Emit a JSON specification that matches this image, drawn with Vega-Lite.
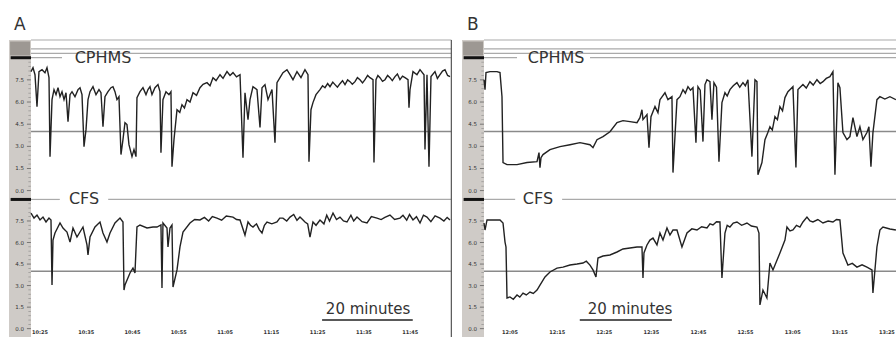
{
"$schema": "https://vega.github.io/schema/vega-lite/v6.json",
"padding": {"left": 9, "top": 16, "right": 0, "bottom": 0},
"background": "white",
"spacing": 9,
"config": {"view": {"stroke": null}, "font": "DejaVu Sans", "line": {"color": "#222", "strokeWidth": 1.4}, "text": {"font": "DejaVu Sans", "color": "#333"}},
"datasets": {
"one": [{"k": 1}],
"minorTop": [{"pH":0.3},{"pH":0.6},{"pH":0.9},{"pH":1.2},{"pH":1.8},{"pH":2.1},{"pH":2.4},{"pH":2.7},{"pH":3.3},{"pH":3.6},{"pH":3.9},{"pH":4.2},{"pH":4.8},{"pH":5.1},{"pH":5.4},{"pH":5.7},{"pH":6.3},{"pH":6.6},{"pH":6.9},{"pH":7.2},{"pH":7.8},{"pH":8.1},{"pH":8.4},{"pH":8.7}],
"yLab": [{"pH":0,"lab":"0.0"},{"pH":1.5,"lab":"1.5"},{"pH":3,"lab":"3.0"},{"pH":4.5,"lab":"4.5"},{"pH":6,"lab":"6.0"},{"pH":7.5,"lab":"7.5"}],
"aTimes": [{"t":1.94,"lab":"10:25"},{"t":11.89,"lab":"10:35"},{"t":21.84,"lab":"10:45"},{"t":31.79,"lab":"10:55"},{"t":41.74,"lab":"11:05"},{"t":51.69,"lab":"11:15"},{"t":61.64,"lab":"11:25"},{"t":71.59,"lab":"11:35"},{"t":81.54,"lab":"11:45"}],
"bTimes": [{"t":5.6,"lab":"12:05"},{"t":15.73,"lab":"12:15"},{"t":25.86,"lab":"12:25"},{"t":35.99,"lab":"12:35"},{"t":46.12,"lab":"12:45"},{"t":56.25,"lab":"12:55"},{"t":66.38,"lab":"13:05"},{"t":76.51,"lab":"13:15"},{"t":86.64,"lab":"13:25"}],
"aTop": [{"t":0,"pH":8.06},{"t":0.43,"pH":8.33},{"t":0.86,"pH":7.85},{"t":1.29,"pH":5.69},{"t":1.72,"pH":8.06},{"t":2.37,"pH":8.19},{"t":3.01,"pH":7.99},{"t":3.44,"pH":8.33},{"t":3.87,"pH":7.65},{"t":4.09,"pH":2.3},{"t":4.52,"pH":6.16},{"t":4.95,"pH":6.84},{"t":5.38,"pH":6.5},{"t":5.81,"pH":6.97},{"t":6.24,"pH":6.36},{"t":6.67,"pH":6.7},{"t":7.1,"pH":6.16},{"t":7.53,"pH":6.63},{"t":7.96,"pH":4.67},{"t":8.39,"pH":6.5},{"t":8.82,"pH":6.7},{"t":9.46,"pH":6.36},{"t":10.11,"pH":6.84},{"t":10.54,"pH":6.97},{"t":10.97,"pH":6.5},{"t":11.4,"pH":2.98},{"t":11.83,"pH":4.13},{"t":12.26,"pH":6.16},{"t":12.69,"pH":6.7},{"t":13.33,"pH":7.04},{"t":13.98,"pH":6.5},{"t":14.62,"pH":6.84},{"t":15.05,"pH":6.63},{"t":15.48,"pH":4.33},{"t":15.91,"pH":6.36},{"t":16.56,"pH":6.7},{"t":17.2,"pH":6.97},{"t":17.63,"pH":7.04},{"t":18.06,"pH":6.7},{"t":18.49,"pH":6.16},{"t":18.92,"pH":6.36},{"t":19.35,"pH":2.44},{"t":19.78,"pH":3.45},{"t":20.21,"pH":4.6},{"t":20.64,"pH":4.47},{"t":21.07,"pH":3.11},{"t":21.72,"pH":2.3},{"t":22.15,"pH":2.78},{"t":22.58,"pH":2.3},{"t":22.79,"pH":6.3},{"t":23.44,"pH":6.7},{"t":24.08,"pH":6.97},{"t":24.73,"pH":6.5},{"t":25.16,"pH":6.84},{"t":25.59,"pH":7.04},{"t":26.02,"pH":6.5},{"t":26.66,"pH":6.97},{"t":27.31,"pH":7.18},{"t":27.74,"pH":6.7},{"t":27.95,"pH":2.57},{"t":28.38,"pH":6.16},{"t":29.03,"pH":6.7},{"t":29.67,"pH":6.5},{"t":30.1,"pH":6.7},{"t":30.32,"pH":1.62},{"t":30.75,"pH":3.45},{"t":31.4,"pH":5.48},{"t":32.0,"pH":5.3},{"t":32.47,"pH":5.82},{"t":33.0,"pH":5.6},{"t":33.55,"pH":6.16},{"t":34.2,"pH":6.0},{"t":34.84,"pH":6.63},{"t":35.6,"pH":6.45},{"t":36.34,"pH":6.97},{"t":37.0,"pH":7.2},{"t":37.85,"pH":7.31},{"t":38.5,"pH":7.1},{"t":39.14,"pH":7.65},{"t":39.8,"pH":7.45},{"t":40.65,"pH":7.85},{"t":41.3,"pH":7.6},{"t":42.15,"pH":8.06},{"t":42.8,"pH":7.8},{"t":43.44,"pH":7.99},{"t":44.2,"pH":7.7},{"t":44.95,"pH":7.85},{"t":45.59,"pH":2.23},{"t":46.02,"pH":6.63},{"t":46.67,"pH":4.81},{"t":47.1,"pH":6.16},{"t":47.74,"pH":7.04},{"t":48.6,"pH":6.84},{"t":49.25,"pH":4.27},{"t":49.68,"pH":6.97},{"t":50.32,"pH":7.18},{"t":50.97,"pH":6.16},{"t":51.83,"pH":6.84},{"t":52.47,"pH":3.25},{"t":52.9,"pH":7.31},{"t":53.55,"pH":7.65},{"t":54.19,"pH":7.99},{"t":55.05,"pH":8.19},{"t":55.7,"pH":7.85},{"t":56.34,"pH":7.51},{"t":57.2,"pH":8.06},{"t":58.06,"pH":7.65},{"t":58.92,"pH":8.19},{"t":59.57,"pH":7.85},{"t":59.78,"pH":1.96},{"t":60.21,"pH":5.48},{"t":60.64,"pH":5.96},{"t":61.29,"pH":6.5},{"t":62.15,"pH":6.84},{"t":62.7,"pH":7.1},{"t":63.22,"pH":6.97},{"t":63.8,"pH":7.25},{"t":64.3,"pH":7.04},{"t":64.9,"pH":7.35},{"t":65.38,"pH":7.18},{"t":65.9,"pH":7.0},{"t":66.45,"pH":7.24},{"t":67.0,"pH":7.45},{"t":67.53,"pH":7.18},{"t":68.1,"pH":7.5},{"t":68.6,"pH":7.38},{"t":69.1,"pH":7.2},{"t":69.68,"pH":7.38},{"t":70.2,"pH":7.65},{"t":70.75,"pH":7.51},{"t":71.3,"pH":7.3},{"t":71.83,"pH":7.51},{"t":72.4,"pH":7.8},{"t":72.9,"pH":7.65},{"t":73.55,"pH":7.51},{"t":73.76,"pH":1.9},{"t":74.19,"pH":7.51},{"t":74.6,"pH":7.8},{"t":75.05,"pH":7.65},{"t":75.6,"pH":7.4},{"t":76.13,"pH":7.51},{"t":76.7,"pH":7.8},{"t":77.2,"pH":7.65},{"t":77.7,"pH":7.45},{"t":78.28,"pH":7.72},{"t":78.8,"pH":7.9},{"t":79.35,"pH":7.51},{"t":79.9,"pH":7.75},{"t":80.43,"pH":7.65},{"t":81.08,"pH":7.51},{"t":81.29,"pH":5.62},{"t":81.51,"pH":6.84},{"t":82.15,"pH":8.06},{"t":83.01,"pH":7.85},{"t":83.66,"pH":8.19},{"t":84.52,"pH":7.85},{"t":84.73,"pH":2.78},{"t":85.16,"pH":7.85},{"t":85.59,"pH":1.62},{"t":86.02,"pH":7.72},{"t":86.88,"pH":8.06},{"t":87.4,"pH":7.6},{"t":87.96,"pH":7.85},{"t":88.5,"pH":8.1},{"t":89.03,"pH":8.19},{"t":89.6,"pH":7.8},{"t":90.11,"pH":7.72}],
"aBot": [{"t":0,"pH":8.05},{"t":0.65,"pH":7.7},{"t":1.29,"pH":7.91},{"t":1.94,"pH":7.57},{"t":2.58,"pH":7.77},{"t":3.23,"pH":7.43},{"t":3.87,"pH":7.7},{"t":4.3,"pH":7.57},{"t":4.52,"pH":3.04},{"t":4.73,"pH":6.17},{"t":5.16,"pH":6.66},{"t":6.24,"pH":7.36},{"t":6.88,"pH":7.01},{"t":7.74,"pH":6.73},{"t":8.39,"pH":6.03},{"t":9.03,"pH":7.01},{"t":9.89,"pH":6.38},{"t":11.18,"pH":7.08},{"t":12.04,"pH":5.83},{"t":12.26,"pH":5.13},{"t":12.69,"pH":6.38},{"t":13.76,"pH":7.08},{"t":14.84,"pH":7.43},{"t":15.48,"pH":6.66},{"t":16.34,"pH":6.03},{"t":16.99,"pH":6.66},{"t":18.06,"pH":7.36},{"t":19.14,"pH":7.7},{"t":19.78,"pH":7.43},{"t":20.0,"pH":2.69},{"t":20.21,"pH":3.04},{"t":21.29,"pH":3.88},{"t":21.93,"pH":4.22},{"t":22.36,"pH":3.88},{"t":22.79,"pH":7.08},{"t":23.44,"pH":7.22},{"t":24.95,"pH":7.01},{"t":26.24,"pH":7.08},{"t":27.1,"pH":7.08},{"t":27.95,"pH":7.22},{"t":28.17,"pH":2.83},{"t":28.38,"pH":7.36},{"t":29.25,"pH":7.01},{"t":29.46,"pH":5.69},{"t":29.89,"pH":7.01},{"t":30.32,"pH":7.22},{"t":30.54,"pH":2.9},{"t":31.4,"pH":4.09},{"t":32.04,"pH":5.69},{"t":32.69,"pH":6.73},{"t":34.19,"pH":7.36},{"t":35.2,"pH":7.6},{"t":36.34,"pH":7.57},{"t":37.3,"pH":7.75},{"t":38.2,"pH":7.5},{"t":39.0,"pH":7.8},{"t":39.99,"pH":7.7},{"t":41.0,"pH":7.55},{"t":42.0,"pH":7.85},{"t":43.44,"pH":7.77},{"t":44.2,"pH":7.6},{"t":44.95,"pH":7.57},{"t":46.02,"pH":6.52},{"t":46.67,"pH":7.43},{"t":47.2,"pH":7.2},{"t":47.74,"pH":7.08},{"t":48.5,"pH":7.3},{"t":49.1,"pH":6.9},{"t":49.68,"pH":6.66},{"t":50.2,"pH":7.2},{"t":50.75,"pH":7.43},{"t":51.8,"pH":7.3},{"t":52.9,"pH":7.43},{"t":53.5,"pH":7.7},{"t":54.19,"pH":7.7},{"t":55.0,"pH":7.5},{"t":55.7,"pH":7.77},{"t":56.5,"pH":7.95},{"t":57.2,"pH":7.55},{"t":57.85,"pH":7.77},{"t":58.4,"pH":7.6},{"t":58.92,"pH":7.43},{"t":59.5,"pH":7.3},{"t":60.0,"pH":6.38},{"t":60.64,"pH":7.43},{"t":61.3,"pH":7.2},{"t":62.15,"pH":7.57},{"t":63.0,"pH":7.3},{"t":63.6,"pH":7.9},{"t":64.2,"pH":7.5},{"t":64.95,"pH":8.05},{"t":65.7,"pH":7.6},{"t":66.45,"pH":7.77},{"t":67.2,"pH":7.5},{"t":67.96,"pH":7.43},{"t":68.8,"pH":7.9},{"t":69.4,"pH":7.5},{"t":70.11,"pH":7.77},{"t":71.2,"pH":7.45},{"t":72.26,"pH":7.36},{"t":73.2,"pH":7.8},{"t":74.41,"pH":7.7},{"t":75.3,"pH":7.6},{"t":76.1,"pH":7.75},{"t":77.2,"pH":7.91},{"t":78.2,"pH":7.6},{"t":79.35,"pH":7.7},{"t":80.0,"pH":7.9},{"t":80.8,"pH":7.55},{"t":81.4,"pH":7.95},{"t":82.15,"pH":7.57},{"t":82.9,"pH":7.8},{"t":83.66,"pH":7.36},{"t":84.4,"pH":7.9},{"t":85.16,"pH":7.77},{"t":86.0,"pH":7.45},{"t":86.9,"pH":7.85},{"t":87.96,"pH":7.7},{"t":88.8,"pH":7.5},{"t":89.5,"pH":7.75},{"t":90.11,"pH":7.57}],
"bTop": [{"t":0,"pH":7.51},{"t":0.22,"pH":6.84},{"t":0.43,"pH":7.99},{"t":1.29,"pH":8.06},{"t":2.8,"pH":8.06},{"t":3.44,"pH":7.99},{"t":3.87,"pH":6.36},{"t":4.09,"pH":1.9},{"t":4.95,"pH":1.76},{"t":7.1,"pH":1.76},{"t":9.25,"pH":1.9},{"t":11.4,"pH":1.96},{"t":11.83,"pH":2.57},{"t":12.04,"pH":1.56},{"t":12.26,"pH":2.23},{"t":12.69,"pH":2.44},{"t":14.19,"pH":2.78},{"t":16.34,"pH":2.98},{"t":18.49,"pH":3.11},{"t":20.64,"pH":3.25},{"t":22.79,"pH":3.11},{"t":23.44,"pH":2.91},{"t":24.3,"pH":3.45},{"t":25.59,"pH":3.66},{"t":27.09,"pH":3.99},{"t":28.6,"pH":4.6},{"t":29.89,"pH":4.74},{"t":31.39,"pH":4.67},{"t":32.9,"pH":4.6},{"t":33.54,"pH":4.94},{"t":33.97,"pH":5.48},{"t":34.19,"pH":4.81},{"t":35.05,"pH":5.15},{"t":35.48,"pH":2.91},{"t":35.91,"pH":5.01},{"t":36.77,"pH":5.69},{"t":37.41,"pH":5.28},{"t":37.84,"pH":6.16},{"t":38.92,"pH":6.63},{"t":39.56,"pH":6.16},{"t":40.42,"pH":6.36},{"t":40.64,"pH":1.22},{"t":41.5,"pH":6.16},{"t":42.14,"pH":6.36},{"t":42.79,"pH":6.84},{"t":43.3,"pH":6.6},{"t":43.86,"pH":7.04},{"t":44.4,"pH":6.8},{"t":44.94,"pH":6.97},{"t":45.58,"pH":3.25},{"t":46.01,"pH":7.04},{"t":46.5,"pH":6.8},{"t":47.09,"pH":3.32},{"t":47.52,"pH":7.18},{"t":47.95,"pH":7.51},{"t":48.59,"pH":7.38},{"t":49.02,"pH":4.81},{"t":49.45,"pH":7.31},{"t":50.0,"pH":7.0},{"t":50.53,"pH":1.96},{"t":51.17,"pH":5.96},{"t":51.82,"pH":6.63},{"t":52.3,"pH":6.4},{"t":52.89,"pH":6.84},{"t":53.6,"pH":7.1},{"t":54.4,"pH":7.31},{"t":55.0,"pH":7.0},{"t":55.69,"pH":7.31},{"t":56.2,"pH":7.1},{"t":56.76,"pH":7.51},{"t":57.62,"pH":2.3},{"t":58.27,"pH":7.51},{"t":58.7,"pH":7.38},{"t":58.91,"pH":1.08},{"t":59.77,"pH":1.9},{"t":60.42,"pH":3.45},{"t":61.0,"pH":3.9},{"t":61.49,"pH":4.33},{"t":62.0,"pH":4.1},{"t":62.57,"pH":5.01},{"t":63.1,"pH":4.8},{"t":63.64,"pH":5.69},{"t":64.2,"pH":5.4},{"t":64.72,"pH":6.3},{"t":65.36,"pH":6.7},{"t":66.44,"pH":7.04},{"t":67.08,"pH":1.56},{"t":67.51,"pH":6.84},{"t":68.59,"pH":7.18},{"t":69.3,"pH":6.95},{"t":70.09,"pH":7.38},{"t":70.8,"pH":7.15},{"t":71.6,"pH":7.51},{"t":72.3,"pH":7.25},{"t":72.89,"pH":7.38},{"t":73.6,"pH":7.6},{"t":74.39,"pH":7.72},{"t":75.04,"pH":8.06},{"t":75.47,"pH":1.08},{"t":76.11,"pH":7.31},{"t":76.54,"pH":6.97},{"t":77.19,"pH":3.93},{"t":78.05,"pH":3.45},{"t":78.69,"pH":3.66},{"t":79.34,"pH":4.94},{"t":80.2,"pH":3.66},{"t":80.84,"pH":4.33},{"t":81.49,"pH":3.45},{"t":82.35,"pH":3.93},{"t":82.78,"pH":4.33},{"t":83.21,"pH":1.62},{"t":83.64,"pH":3.93},{"t":84.5,"pH":6.16},{"t":85.14,"pH":6.36},{"t":86.2,"pH":6.2},{"t":87.29,"pH":6.36},{"t":88.58,"pH":6.16}],
"bBot": [{"t":0,"pH":7.36},{"t":0.22,"pH":6.87},{"t":0.65,"pH":7.57},{"t":3.44,"pH":7.57},{"t":4.09,"pH":7.36},{"t":4.52,"pH":6.03},{"t":4.73,"pH":5.69},{"t":4.95,"pH":2.14},{"t":5.59,"pH":2.21},{"t":6.3,"pH":2.05},{"t":7.1,"pH":2.35},{"t":7.7,"pH":2.2},{"t":8.39,"pH":2.48},{"t":9.1,"pH":2.35},{"t":9.89,"pH":2.55},{"t":10.6,"pH":2.45},{"t":11.4,"pH":2.69},{"t":12.04,"pH":3.04},{"t":13.12,"pH":3.6},{"t":14.19,"pH":3.95},{"t":15.7,"pH":4.22},{"t":16.99,"pH":4.29},{"t":18.49,"pH":4.43},{"t":20.0,"pH":4.5},{"t":21.29,"pH":4.57},{"t":22.0,"pH":4.7},{"t":22.79,"pH":4.43},{"t":23.44,"pH":4.09},{"t":24.08,"pH":3.6},{"t":24.51,"pH":4.92},{"t":25.59,"pH":5.06},{"t":27.09,"pH":5.13},{"t":28.6,"pH":5.34},{"t":29.89,"pH":5.55},{"t":31.39,"pH":5.62},{"t":32.9,"pH":5.69},{"t":33.97,"pH":5.69},{"t":34.19,"pH":3.53},{"t":34.4,"pH":5.27},{"t":35.05,"pH":5.83},{"t":35.69,"pH":6.17},{"t":36.34,"pH":6.31},{"t":37.2,"pH":5.83},{"t":37.84,"pH":6.66},{"t":38.49,"pH":6.17},{"t":39.35,"pH":7.01},{"t":39.99,"pH":6.52},{"t":40.64,"pH":6.87},{"t":41.5,"pH":6.87},{"t":42.57,"pH":5.69},{"t":43.65,"pH":6.66},{"t":44.7,"pH":6.95},{"t":45.8,"pH":6.87},{"t":46.8,"pH":7.1},{"t":47.95,"pH":7.01},{"t":48.6,"pH":7.3},{"t":49.24,"pH":7.22},{"t":50.0,"pH":7.45},{"t":50.74,"pH":7.43},{"t":51.17,"pH":3.53},{"t":51.82,"pH":6.66},{"t":52.3,"pH":7.2},{"t":52.89,"pH":7.08},{"t":53.6,"pH":7.35},{"t":54.4,"pH":7.43},{"t":55.4,"pH":7.2},{"t":56.55,"pH":7.36},{"t":57.5,"pH":7.15},{"t":58.7,"pH":7.08},{"t":59.13,"pH":6.66},{"t":59.34,"pH":1.65},{"t":59.99,"pH":2.69},{"t":60.84,"pH":2.14},{"t":61.49,"pH":4.57},{"t":62.14,"pH":4.09},{"t":63.64,"pH":5.27},{"t":64.72,"pH":6.17},{"t":65.15,"pH":7.08},{"t":65.8,"pH":6.8},{"t":66.44,"pH":6.87},{"t":67.2,"pH":7.2},{"t":67.94,"pH":7.08},{"t":68.59,"pH":7.43},{"t":69.45,"pH":7.77},{"t":70.1,"pH":7.5},{"t":70.74,"pH":7.43},{"t":71.8,"pH":7.6},{"t":72.89,"pH":7.36},{"t":74.0,"pH":7.5},{"t":75.04,"pH":7.43},{"t":75.8,"pH":7.6},{"t":76.54,"pH":7.57},{"t":77.19,"pH":5.27},{"t":78.26,"pH":4.43},{"t":79.2,"pH":4.55},{"t":80.2,"pH":4.29},{"t":81.3,"pH":4.45},{"t":82.35,"pH":4.29},{"t":83.43,"pH":4.09},{"t":83.64,"pH":2.48},{"t":84.5,"pH":5.69},{"t":85.14,"pH":6.87},{"t":85.79,"pH":7.08},{"t":87.29,"pH":6.94},{"t":88.58,"pH":6.87}],
"topLines": [{"pH":10.2},{"pH":9.6},{"pH":9.3}]
},
"hconcat": [
{
"title": {"text": "A", "anchor": "start", "frame": "group", "fontSize": 17, "fontWeight": "normal", "color": "#333", "dx": 5, "offset": 5},
"spacing": 0,
"bounds": "flush",
"vconcat": [
{
"width": 443, "height": 158,
"layer": [
{"data": {"name": "one"}, "mark": {"type": "rect", "color": "#cfcbc7"}, "encoding": {"x": {"datum": -4.73, "type": "quantitative", "scale": {"domain": [-4.73, 90.54], "nice": false, "zero": false}, "axis": null}, "x2": {"datum": 0}}},
{"data": {"name": "one"}, "mark": {"type": "rect", "color": "#9d9893"}, "encoding": {"x": {"datum": -4.5, "type": "quantitative", "axis": null}, "x2": {"datum": -0.2}, "y": {"datum": 9.15, "type": "quantitative", "scale": {"domain": [-0.5, 10.2], "nice": false, "zero": false}, "axis": null}, "y2": {"datum": 10.1}}},
{"data": {"name": "minorTop"}, "mark": {"type": "tick", "orient": "horizontal", "color": "#777", "size": 2.5, "thickness": 0.7}, "encoding": {"x": {"datum": -0.3, "type": "quantitative", "axis": null}, "y": {"field": "pH", "type": "quantitative", "axis": null}}},
{"data": {"name": "yLab"}, "mark": {"type": "tick", "orient": "horizontal", "color": "#444", "size": 4, "thickness": 0.9}, "encoding": {"x": {"datum": -0.45, "type": "quantitative", "axis": null}, "y": {"field": "pH", "type": "quantitative", "axis": null}}},
{"data": {"name": "yLab"}, "mark": {"type": "text", "fontSize": 5.5, "align": "right", "baseline": "middle", "color": "#333"}, "encoding": {"x": {"datum": -1.5, "type": "quantitative", "axis": null}, "y": {"field": "pH", "type": "quantitative", "axis": null}, "text": {"field": "lab"}}},
{"data": {"name": "topLines"}, "mark": {"type": "rule", "color": "#aaa", "strokeWidth": 1.2}, "encoding": {"x": {"datum": 0, "type": "quantitative", "axis": null}, "x2": {"datum": 90.4}, "y": {"field": "pH", "type": "quantitative", "axis": null}}},
{"data": {"name": "one"}, "mark": {"type": "rule", "color": "#aaa", "strokeWidth": 1.2}, "encoding": {"x": {"datum": 0, "type": "quantitative", "axis": null}, "x2": {"datum": 6.67}, "y": {"datum": 9, "type": "quantitative", "axis": null}}},
{"data": {"name": "one"}, "mark": {"type": "rule", "color": "#aaa", "strokeWidth": 1.2}, "encoding": {"x": {"datum": 23.4, "type": "quantitative", "axis": null}, "x2": {"datum": 90.4}, "y": {"datum": 9, "type": "quantitative", "axis": null}}},
{"data": {"name": "one"}, "mark": {"type": "rule", "color": "#8a8a8a", "strokeWidth": 1.4}, "encoding": {"x": {"datum": 0, "type": "quantitative", "axis": null}, "x2": {"datum": 90.4}, "y": {"datum": 4, "type": "quantitative", "axis": null}}},
{"data": {"name": "one"}, "mark": {"type": "rule", "color": "#111", "strokeWidth": 3}, "encoding": {"x": {"datum": -4.38, "type": "quantitative", "axis": null}, "x2": {"datum": 0}, "y": {"datum": 9, "type": "quantitative", "axis": null}}},
{"data": {"name": "one"}, "mark": {"type": "rule", "color": "#555", "strokeWidth": 1.2}, "encoding": {"x": {"datum": 90.4, "type": "quantitative", "axis": null}}},
{"data": {"name": "aTop"}, "mark": {"type": "line"}, "encoding": {"x": {"field": "t", "type": "quantitative", "axis": null}, "y": {"field": "pH", "type": "quantitative", "axis": null}}},
{"data": {"name": "one"}, "mark": {"type": "text", "fontSize": 16, "baseline": "middle", "align": "center"}, "encoding": {"x": {"datum": 15.5, "type": "quantitative", "axis": null}, "y": {"datum": 9, "type": "quantitative", "axis": null}, "text": {"value": "CPHMS"}}}
]
},
{
"width": 443, "height": 139,
"layer": [
{"data": {"name": "one"}, "mark": {"type": "rect", "color": "#cfcbc7"}, "encoding": {"x": {"datum": -4.73, "type": "quantitative", "scale": {"domain": [-4.73, 90.54], "nice": false, "zero": false}, "axis": null}, "x2": {"datum": 0}}},
{"data": {"name": "minorTop"}, "mark": {"type": "tick", "orient": "horizontal", "color": "#777", "size": 2.5, "thickness": 0.7}, "encoding": {"x": {"datum": -0.3, "type": "quantitative", "axis": null}, "y": {"field": "pH", "type": "quantitative", "scale": {"domain": [-0.58, 9.1], "nice": false, "zero": false}, "axis": null}}},
{"data": {"name": "yLab"}, "mark": {"type": "tick", "orient": "horizontal", "color": "#444", "size": 4, "thickness": 0.9}, "encoding": {"x": {"datum": -0.45, "type": "quantitative", "axis": null}, "y": {"field": "pH", "type": "quantitative", "axis": null}}},
{"data": {"name": "yLab"}, "mark": {"type": "text", "fontSize": 5.5, "align": "right", "baseline": "middle", "color": "#333"}, "encoding": {"x": {"datum": -1.5, "type": "quantitative", "axis": null}, "y": {"field": "pH", "type": "quantitative", "axis": null}, "text": {"field": "lab"}}},
{"data": {"name": "one"}, "mark": {"type": "rule", "color": "#aaa", "strokeWidth": 1.2}, "encoding": {"x": {"datum": 0, "type": "quantitative", "axis": null}, "x2": {"datum": 6.2}, "y": {"datum": 9, "type": "quantitative", "axis": null}}},
{"data": {"name": "one"}, "mark": {"type": "rule", "color": "#aaa", "strokeWidth": 1.2}, "encoding": {"x": {"datum": 16.6, "type": "quantitative", "axis": null}, "x2": {"datum": 90.4}, "y": {"datum": 9, "type": "quantitative", "axis": null}}},
{"data": {"name": "one"}, "mark": {"type": "rule", "color": "#8a8a8a", "strokeWidth": 1.4}, "encoding": {"x": {"datum": 0, "type": "quantitative", "axis": null}, "x2": {"datum": 90.4}, "y": {"datum": 4, "type": "quantitative", "axis": null}}},
{"data": {"name": "one"}, "mark": {"type": "rule", "color": "#111", "strokeWidth": 3}, "encoding": {"x": {"datum": -4.38, "type": "quantitative", "axis": null}, "x2": {"datum": 0}, "y": {"datum": 9, "type": "quantitative", "axis": null}}},
{"data": {"name": "one"}, "mark": {"type": "rule", "color": "#555", "strokeWidth": 1.2}, "encoding": {"x": {"datum": 90.4, "type": "quantitative", "axis": null}}},
{"data": {"name": "one"}, "mark": {"type": "rule", "color": "#222", "strokeWidth": 1.5}, "encoding": {"x": {"datum": 62.6, "type": "quantitative", "axis": null}, "x2": {"datum": 82.1}, "y": {"datum": 0.6, "type": "quantitative", "axis": null}}},
{"data": {"name": "aBot"}, "mark": {"type": "line"}, "encoding": {"x": {"field": "t", "type": "quantitative", "axis": null}, "y": {"field": "pH", "type": "quantitative", "axis": null}}},
{"data": {"name": "aTimes"}, "mark": {"type": "text", "fontSize": 5, "fontWeight": "bold", "align": "center", "baseline": "middle", "color": "#333"}, "encoding": {"x": {"field": "t", "type": "quantitative", "axis": null}, "y": {"datum": -0.2, "type": "quantitative", "axis": null}, "text": {"field": "lab"}}},
{"data": {"name": "one"}, "mark": {"type": "text", "fontSize": 16, "baseline": "middle", "align": "center"}, "encoding": {"x": {"datum": 11.4, "type": "quantitative", "axis": null}, "y": {"datum": 9, "type": "quantitative", "axis": null}, "text": {"value": "CFS"}}},
{"data": {"name": "one"}, "mark": {"type": "text", "fontSize": 15, "baseline": "middle", "align": "center"}, "encoding": {"x": {"datum": 72.5, "type": "quantitative", "axis": null}, "y": {"datum": 1.37, "type": "quantitative", "axis": null}, "text": {"value": "20 minutes"}}}
]
}
]
},
{
"title": {"text": "B", "anchor": "start", "frame": "group", "fontSize": 17, "fontWeight": "normal", "color": "#333", "dx": 5, "offset": 5},
"spacing": 0,
"bounds": "flush",
"vconcat": [
{
"width": 434, "height": 158,
"layer": [
{"data": {"name": "one"}, "mark": {"type": "rect", "color": "#cfcbc7"}, "encoding": {"x": {"datum": -4.73, "type": "quantitative", "scale": {"domain": [-4.73, 88.6], "nice": false, "zero": false}, "axis": null}, "x2": {"datum": 0}}},
{"data": {"name": "one"}, "mark": {"type": "rect", "color": "#9d9893"}, "encoding": {"x": {"datum": -4.5, "type": "quantitative", "axis": null}, "x2": {"datum": -0.2}, "y": {"datum": 9.15, "type": "quantitative", "scale": {"domain": [-0.5, 10.2], "nice": false, "zero": false}, "axis": null}, "y2": {"datum": 10.1}}},
{"data": {"name": "minorTop"}, "mark": {"type": "tick", "orient": "horizontal", "color": "#777", "size": 2.5, "thickness": 0.7}, "encoding": {"x": {"datum": -0.3, "type": "quantitative", "axis": null}, "y": {"field": "pH", "type": "quantitative", "axis": null}}},
{"data": {"name": "yLab"}, "mark": {"type": "tick", "orient": "horizontal", "color": "#444", "size": 4, "thickness": 0.9}, "encoding": {"x": {"datum": -0.45, "type": "quantitative", "axis": null}, "y": {"field": "pH", "type": "quantitative", "axis": null}}},
{"data": {"name": "yLab"}, "mark": {"type": "text", "fontSize": 5.5, "align": "right", "baseline": "middle", "color": "#333"}, "encoding": {"x": {"datum": -1.5, "type": "quantitative", "axis": null}, "y": {"field": "pH", "type": "quantitative", "axis": null}, "text": {"field": "lab"}}},
{"data": {"name": "topLines"}, "mark": {"type": "rule", "color": "#aaa", "strokeWidth": 1.2}, "encoding": {"x": {"datum": 0, "type": "quantitative", "axis": null}, "x2": {"datum": 88.6}, "y": {"field": "pH", "type": "quantitative", "axis": null}}},
{"data": {"name": "one"}, "mark": {"type": "rule", "color": "#aaa", "strokeWidth": 1.2}, "encoding": {"x": {"datum": 0, "type": "quantitative", "axis": null}, "x2": {"datum": 7.1}, "y": {"datum": 9, "type": "quantitative", "axis": null}}},
{"data": {"name": "one"}, "mark": {"type": "rule", "color": "#aaa", "strokeWidth": 1.2}, "encoding": {"x": {"datum": 22.8, "type": "quantitative", "axis": null}, "x2": {"datum": 88.6}, "y": {"datum": 9, "type": "quantitative", "axis": null}}},
{"data": {"name": "one"}, "mark": {"type": "rule", "color": "#8a8a8a", "strokeWidth": 1.4}, "encoding": {"x": {"datum": 0, "type": "quantitative", "axis": null}, "x2": {"datum": 88.6}, "y": {"datum": 4, "type": "quantitative", "axis": null}}},
{"data": {"name": "one"}, "mark": {"type": "rule", "color": "#111", "strokeWidth": 3}, "encoding": {"x": {"datum": -4.38, "type": "quantitative", "axis": null}, "x2": {"datum": 0}, "y": {"datum": 9, "type": "quantitative", "axis": null}}},
{"data": {"name": "bTop"}, "mark": {"type": "line"}, "encoding": {"x": {"field": "t", "type": "quantitative", "axis": null}, "y": {"field": "pH", "type": "quantitative", "axis": null}}},
{"data": {"name": "one"}, "mark": {"type": "text", "fontSize": 16, "baseline": "middle", "align": "center"}, "encoding": {"x": {"datum": 15.5, "type": "quantitative", "axis": null}, "y": {"datum": 9, "type": "quantitative", "axis": null}, "text": {"value": "CPHMS"}}}
]
},
{
"width": 434, "height": 139,
"layer": [
{"data": {"name": "one"}, "mark": {"type": "rect", "color": "#cfcbc7"}, "encoding": {"x": {"datum": -4.73, "type": "quantitative", "scale": {"domain": [-4.73, 88.6], "nice": false, "zero": false}, "axis": null}, "x2": {"datum": 0}}},
{"data": {"name": "minorTop"}, "mark": {"type": "tick", "orient": "horizontal", "color": "#777", "size": 2.5, "thickness": 0.7}, "encoding": {"x": {"datum": -0.3, "type": "quantitative", "axis": null}, "y": {"field": "pH", "type": "quantitative", "scale": {"domain": [-0.58, 9.1], "nice": false, "zero": false}, "axis": null}}},
{"data": {"name": "yLab"}, "mark": {"type": "tick", "orient": "horizontal", "color": "#444", "size": 4, "thickness": 0.9}, "encoding": {"x": {"datum": -0.45, "type": "quantitative", "axis": null}, "y": {"field": "pH", "type": "quantitative", "axis": null}}},
{"data": {"name": "yLab"}, "mark": {"type": "text", "fontSize": 5.5, "align": "right", "baseline": "middle", "color": "#333"}, "encoding": {"x": {"datum": -1.5, "type": "quantitative", "axis": null}, "y": {"field": "pH", "type": "quantitative", "axis": null}, "text": {"field": "lab"}}},
{"data": {"name": "one"}, "mark": {"type": "rule", "color": "#aaa", "strokeWidth": 1.2}, "encoding": {"x": {"datum": 0, "type": "quantitative", "axis": null}, "x2": {"datum": 6.7}, "y": {"datum": 9, "type": "quantitative", "axis": null}}},
{"data": {"name": "one"}, "mark": {"type": "rule", "color": "#aaa", "strokeWidth": 1.2}, "encoding": {"x": {"datum": 16.8, "type": "quantitative", "axis": null}, "x2": {"datum": 88.6}, "y": {"datum": 9, "type": "quantitative", "axis": null}}},
{"data": {"name": "one"}, "mark": {"type": "rule", "color": "#8a8a8a", "strokeWidth": 1.4}, "encoding": {"x": {"datum": 0, "type": "quantitative", "axis": null}, "x2": {"datum": 88.6}, "y": {"datum": 4, "type": "quantitative", "axis": null}}},
{"data": {"name": "one"}, "mark": {"type": "rule", "color": "#111", "strokeWidth": 3}, "encoding": {"x": {"datum": -4.38, "type": "quantitative", "axis": null}, "x2": {"datum": 0}, "y": {"datum": 9, "type": "quantitative", "axis": null}}},
{"data": {"name": "one"}, "mark": {"type": "rule", "color": "#222", "strokeWidth": 1.5}, "encoding": {"x": {"datum": 20.6, "type": "quantitative", "axis": null}, "x2": {"datum": 40.4}, "y": {"datum": 0.6, "type": "quantitative", "axis": null}}},
{"data": {"name": "bBot"}, "mark": {"type": "line"}, "encoding": {"x": {"field": "t", "type": "quantitative", "axis": null}, "y": {"field": "pH", "type": "quantitative", "axis": null}}},
{"data": {"name": "bTimes"}, "mark": {"type": "text", "fontSize": 5, "fontWeight": "bold", "align": "center", "baseline": "middle", "color": "#333"}, "encoding": {"x": {"field": "t", "type": "quantitative", "axis": null}, "y": {"datum": -0.2, "type": "quantitative", "axis": null}, "text": {"field": "lab"}}},
{"data": {"name": "one"}, "mark": {"type": "text", "fontSize": 16, "baseline": "middle", "align": "center"}, "encoding": {"x": {"datum": 11.6, "type": "quantitative", "axis": null}, "y": {"datum": 9, "type": "quantitative", "axis": null}, "text": {"value": "CFS"}}},
{"data": {"name": "one"}, "mark": {"type": "text", "fontSize": 15, "baseline": "middle", "align": "center"}, "encoding": {"x": {"datum": 31.4, "type": "quantitative", "axis": null}, "y": {"datum": 1.37, "type": "quantitative", "axis": null}, "text": {"value": "20 minutes"}}}
]
}
]
}
]
}
